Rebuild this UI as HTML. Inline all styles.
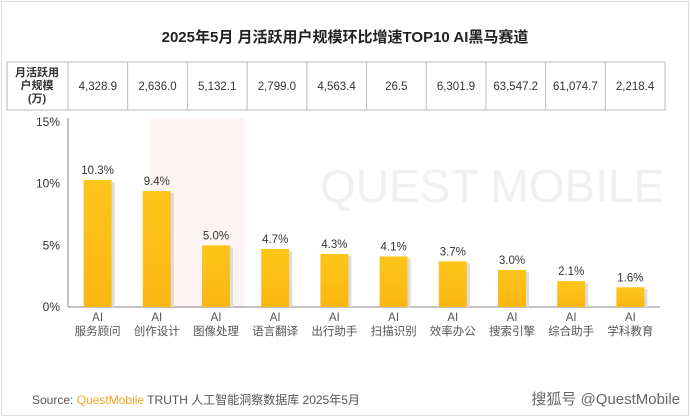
<!DOCTYPE html>
<html><head><meta charset="utf-8"><style>
body{margin:0;width:690px;height:417px;background:#fff;font-family:"Liberation Sans","Noto Sans CJK SC",sans-serif;overflow:hidden}
#frame{position:absolute;left:1px;top:1px;width:686px;height:413px;border:1px solid #ddd}
</style></head><body>
<div id="frame"></div>
<svg width="690" height="417" style="position:absolute;left:0;top:0">
<defs><linearGradient id="gb" x1="0" y1="0" x2="0" y2="1"><stop offset="0" stop-color="#fec51a"/><stop offset="1" stop-color="#fbb714"/></linearGradient></defs>
<text x="345" y="42" text-anchor="middle" font-size="15" font-weight="bold" fill="#222">2025年5月 月活跃用户规模环比增速TOP10 AI黑马赛道</text>
<rect x="150" y="118" width="95" height="190" fill="#fdf4f3"/>
<text x="320" y="202" font-size="46" fill="#f0f0f0">QUEST MOBILE</text>
<g id="table"></g>
<g id="axes"></g><g id="bars"></g>
<text x="32" y="404" font-size="12" fill="#555">Source: <tspan fill="#f5a623">QuestMobile</tspan> TRUTH 人工智能洞察数据库 2025年5月</text>
<text x="680" y="404" text-anchor="end" font-size="15" fill="#666">搜狐号 @QuestMobile</text>
</svg>
<script>
const categories=["服务顾问","创作设计","图像处理","语言翻译","出行助手","扫描识别","效率办公","搜索引擎","综合助手","学科教育"];
const growth=[10.3,9.4,5.0,4.7,4.3,4.1,3.7,3.0,2.1,1.6];
const mau=["4,328.9","2,636.0","5,132.1","2,799.0","4,563.4","26.5","6,301.9","63,547.2","61,074.7","2,218.4"];
const ticks=[0,5,10,15];
const NS="http://www.w3.org/2000/svg";
function mk(t,a,p,txt){const e=document.createElementNS(NS,t);for(const k in a)e.setAttribute(k,a[k]);if(txt!=null)e.textContent=txt;p.appendChild(e);return e;}
const x0=68,x1=660,y0=307,y1=122,ymax=15;
const step=(x1-x0)/categories.length;
const y=v=>y0-(v/ymax)*(y0-y1);
const xc=i=>x0+step*(i+0.5);
const tb=document.getElementById('table');
mk('rect',{x:7,y:62,width:658,height:48,fill:'none',stroke:'#bbb'},tb);
const hdr=mk('text',{x:37,y:76,'text-anchor':'middle','font-size':11,'font-weight':'bold',fill:'#333'},tb);


["月活跃用","户规模","(万)"].forEach((s,k)=>mk('tspan',{x:37,dy:k?13:0},hdr,s));
for(let i=0;i<categories.length;i++){
 const cx=68+i*59.7;
 mk('line',{x1:cx,y1:62,x2:cx,y2:110,stroke:'#bbb'},tb);
 const t=mk('text',{x:cx+29.8,y:90,'text-anchor':'middle','font-size':11.5,fill:'#333'},tb,mau[i]);
 
 
}
const ax=document.getElementById('axes');
mk('line',{x1:x0,y1:y1-4,x2:x0,y2:y0,stroke:'#888'},ax);
mk('line',{x1:x0,y1:y0,x2:x1,y2:y0,stroke:'#888'},ax);
ticks.forEach(t=>{
 const e=mk('text',{x:x0-8,y:y(t)+4,'text-anchor':'end','font-size':12,fill:'#333'},ax,t+'%');
 
 
});
const bg=document.getElementById('bars');
const bw=28;
growth.forEach((v,i)=>{
 const cx=xc(i);
 mk('rect',{x:cx-bw/2+3,y:y(v)+2,width:bw,height:y0-y(v)-2,fill:'#dcdcdc'},bg);
 const r=mk('rect',{x:cx-bw/2,y:y(v),width:bw,height:y0-y(v),fill:'url(#gb)'},bg);
 
 
 const l=mk('text',{x:cx,y:y(v)-6,'text-anchor':'middle','font-size':11.5,fill:'#333'},bg,v.toFixed(1)+'%');
 
 
 const c=mk('text',{x:cx,y:321,'text-anchor':'middle','font-size':11.5,fill:'#555'},bg);
 
 
 mk('tspan',{x:cx,dy:0},c,'AI');mk('tspan',{x:cx,dy:14},c,categories[i]);
});
</script>
</body></html>
